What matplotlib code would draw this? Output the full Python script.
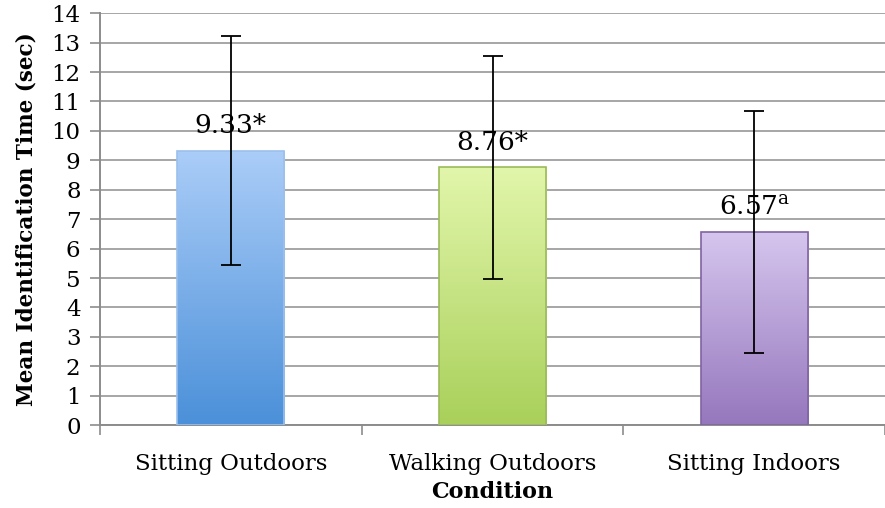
import numpy as np
import matplotlib
matplotlib.use("Agg")
import matplotlib.pyplot as plt
from matplotlib.colors import LinearSegmentedColormap

# chart data
conditions = ["Sitting Outdoors", "Walking Outdoors", "Sitting Indoors"]
means = [9.33, 8.76, 6.57]
errors = [3.88, 3.79, 4.12]
labels = ["9.33*", "8.76*", "6.57$^{\\mathregular{a}}$"]

top_colors = ["#abcdf8", "#e2f6ab", "#d6c6ee"]
bottom_colors = ["#4b90d9", "#a9d05a", "#9577bd"]
edge_colors = ["#9cc0ee", "#9bbb59", "#8064a2"]

plt.rcParams["font.family"] = ["DejaVu Serif"]
plt.rcParams["mathtext.fontset"] = "dejavuserif"

fig = plt.figure(figsize=(8.85, 5.08), dpi=100)
ax = fig.add_axes([0.113, 0.163, 0.887, 0.811])

x = np.arange(len(conditions))
bars = ax.bar(x, means, width=0.41, color="none", zorder=3)

# vertical gradient fill for each bar
grad = np.linspace(0, 1, 256).reshape(-1, 1)
for bar, c_top, c_bot, c_edge in zip(bars, top_colors, bottom_colors, edge_colors):
    cmap = LinearSegmentedColormap.from_list("g", [c_bot, c_top])
    bx, by = bar.get_x(), bar.get_y()
    w, h = bar.get_width(), bar.get_height()
    img = ax.imshow(grad, cmap=cmap, aspect="auto", origin="lower",
                    extent=(bx, bx + w, by, by + h), zorder=3)
    img.set_clip_path(bar)
    bar.set_edgecolor(c_edge)
    bar.set_linewidth(1.2)
    bar.set_zorder(4)

for xi, m, lab in zip(x, means, labels):
    ax.annotate(lab, (xi, m), xytext=(0, 9), textcoords="offset points",
                ha="center", va="bottom", fontsize=19, zorder=5)

ax.errorbar(x, means, yerr=errors, fmt="none", ecolor="black",
            elinewidth=1.3, capsize=7, capthick=1.3, zorder=6)

ax.set_xlim(-0.5, 2.5)
ax.set_ylim(0, 14)
ax.set_yticks(range(0, 15))
ax.yaxis.grid(True, color="#a6a6a6", linewidth=1.4, zorder=0)
ax.set_axisbelow(True)

ax.set_xticks(x)
ax.set_xticklabels(conditions, fontsize=16.5)
ax.set_xticks([-0.5, 0.5, 1.5, 2.5], minor=True)
ax.tick_params(axis="x", which="major", length=0, pad=20)
ax.tick_params(axis="x", which="minor", length=7, color="#8c8c8c", width=1.2)
ax.tick_params(axis="y", labelsize=16.5, length=7, color="#8c8c8c", width=1.2, pad=7)

for s in ["top", "right"]:
    ax.spines[s].set_visible(False)
for s in ["left", "bottom"]:
    ax.spines[s].set_color("#8c8c8c")
    ax.spines[s].set_linewidth(1.4)

ax.set_xlabel("Condition", fontsize=16, fontweight="bold", labelpad=4)
ax.set_ylabel("Mean Identification Time (sec)", fontsize=15.5, fontweight="bold", labelpad=10)

fig.savefig("out.png", dpi=100)
